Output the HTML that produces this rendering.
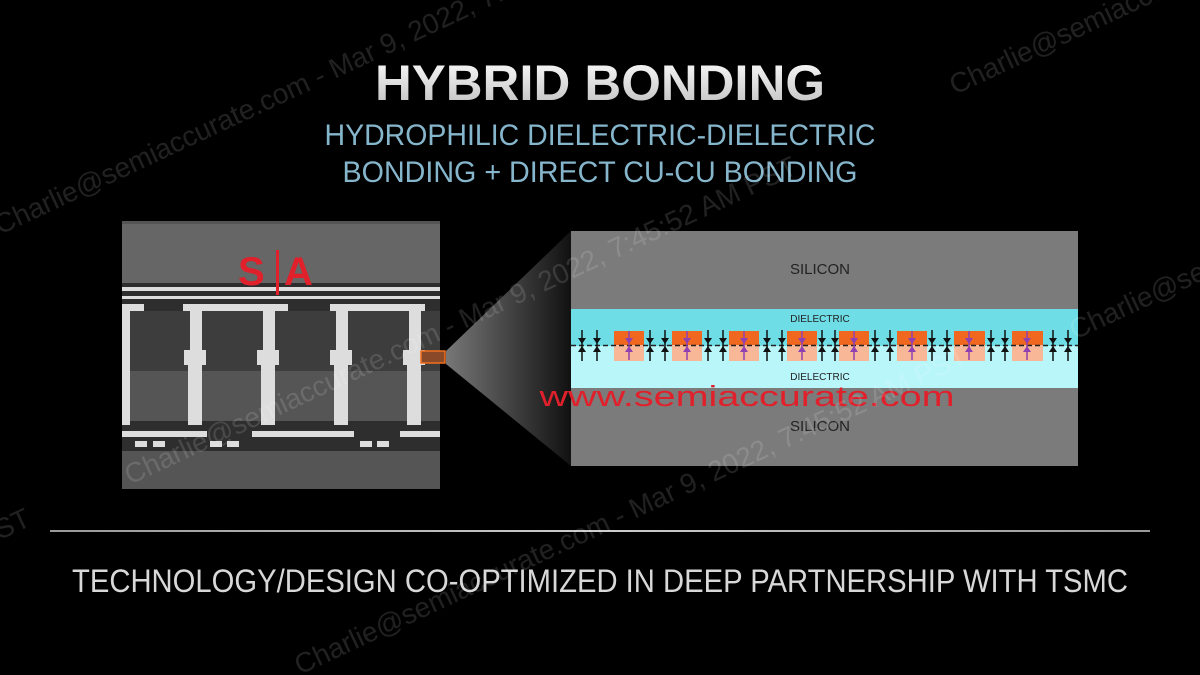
<!DOCTYPE html>
<html><head><meta charset="utf-8"><style>
html,body{margin:0;padding:0;background:#000;}
svg{display:block}
</style></head><body>
<svg width="1200" height="675" viewBox="0 0 1200 675" xmlns="http://www.w3.org/2000/svg">
<defs>
<linearGradient id="tg" x1="0" y1="0" x2="0" y2="1"><stop offset="0" stop-color="#fff"/><stop offset="1" stop-color="#bdbdbd"/></linearGradient>
<linearGradient id="fg" x1="0" y1="0" x2="1" y2="0"><stop offset="0" stop-color="#777"/><stop offset="1" stop-color="#111"/></linearGradient>
<linearGradient id="lg" x1="0" y1="0" x2="1" y2="0"><stop offset="0" stop-color="#999"/><stop offset="0.5" stop-color="#ccc"/><stop offset="1" stop-color="#999"/></linearGradient>
<g id="ar"><line x1="0" y1="330" x2="0" y2="361" stroke="#111" stroke-width="1.5"/><path d="M-4,338 L4,338 L0,344 Z M-4,352 L4,352 L0,346 Z" fill="#111"/></g>
<g id="ap"><line x1="0" y1="331" x2="0" y2="360" stroke="#9040b0" stroke-width="1.5"/><path d="M-4,338 L4,338 L0,344 Z M-4,352 L4,352 L0,346 Z" fill="#9040b0"/></g>
</defs>
<rect width="1200" height="675" fill="#000"/>
<!-- title -->
<text x="600" y="100" text-anchor="middle" font-family="Liberation Sans, sans-serif" font-weight="bold" font-size="50" fill="url(#tg)" textLength="450" lengthAdjust="spacingAndGlyphs">HYBRID BONDING</text>
<text x="600" y="145" text-anchor="middle" font-family="Liberation Sans, sans-serif" font-size="30" fill="#86b6cc" textLength="551" lengthAdjust="spacingAndGlyphs">HYDROPHILIC DIELECTRIC-DIELECTRIC</text>
<text x="600" y="182" text-anchor="middle" font-family="Liberation Sans, sans-serif" font-size="30" fill="#86b6cc" textLength="515" lengthAdjust="spacingAndGlyphs">BONDING + DIRECT CU-CU BONDING</text>
<!-- left image -->
<rect x="122" y="221" width="318" height="268" fill="#666"/>
<rect x="122" y="221" width="318" height="3" fill="#555"/>
<rect x="122" y="283" width="318" height="28" fill="#2e2e2e"/>
<rect x="122" y="311" width="318" height="60" fill="#3d3d3d"/>
<rect x="122" y="371" width="318" height="50" fill="#555"/>
<rect x="122" y="421" width="318" height="30" fill="#2e2e2e"/>
<rect x="122" y="451" width="318" height="38" fill="#555"/>
<g fill="#ddd">
<rect x="122" y="287" width="318" height="4"/>
<rect x="122" y="296" width="318" height="3"/>
<rect x="122" y="304" width="22" height="7"/><rect x="183" y="304" width="105" height="7"/><rect x="330" y="304" width="95" height="7"/>
<rect x="122" y="431" width="85" height="6"/><rect x="252" y="431" width="102" height="6"/><rect x="400" y="431" width="40" height="6"/>
<rect x="135" y="441" width="12" height="6"/><rect x="153" y="441" width="12" height="6"/><rect x="210" y="441" width="12" height="6"/><rect x="227" y="441" width="12" height="6"/><rect x="360" y="441" width="12" height="6"/><rect x="377" y="441" width="12" height="6"/>
<path d="M122,310 h8 v115 h-8z"/>
<path d="M190,310 h12 v40 h4 v15 h-4 v60 h-14 v-60 h-4 v-15 h6z"/>
<path d="M263,310 h12 v40 h4 v15 h-4 v60 h-14 v-60 h-4 v-15 h6z"/>
<path d="M336,310 h12 v40 h4 v15 h-4 v60 h-14 v-60 h-4 v-15 h6z"/>
<path d="M409,310 h12 v40 h4 v15 h-4 v60 h-14 v-60 h-4 v-15 h6z"/>
</g>
<text x="238" y="285" font-family="Liberation Sans, sans-serif" font-weight="bold" font-size="40" fill="#e0202a">S</text>
<rect x="276" y="250" width="3" height="45" fill="#e0202a"/>
<text x="284" y="285" font-family="Liberation Sans, sans-serif" font-weight="bold" font-size="40" fill="#e0202a">A</text>
<rect x="421" y="351" width="24" height="12" fill="#8a4a2a" stroke="#f07020" stroke-width="1.5"/>
<!-- funnel -->
<polygon points="446,351 571,231 571,466 446,364" fill="url(#fg)"/>
<!-- right panel -->
<rect x="571" y="231" width="507" height="235" fill="#7b7b7b"/>
<rect x="571" y="309" width="507" height="37" fill="#6edde6"/>
<rect x="571" y="346" width="507" height="42" fill="#b8f6fa"/>
<g font-family="Liberation Sans, sans-serif" fill="#222" text-anchor="middle">
<text x="820" y="274" font-size="15">SILICON</text>
<text x="820" y="431" font-size="15">SILICON</text>
<text x="820" y="322" font-size="10">DIELECTRIC</text>
<text x="820" y="380" font-size="10">DIELECTRIC</text>
</g>
<g>
<rect x="614" y="331" width="30" height="14" fill="#f06820"/><rect x="614" y="345" width="30" height="16" fill="#f8b898"/>
<rect x="672" y="331" width="30" height="14" fill="#f06820"/><rect x="672" y="345" width="30" height="16" fill="#f8b898"/>
<rect x="729" y="331" width="30" height="14" fill="#f06820"/><rect x="729" y="345" width="30" height="16" fill="#f8b898"/>
<rect x="787" y="331" width="30" height="14" fill="#f06820"/><rect x="787" y="345" width="30" height="16" fill="#f8b898"/>
<rect x="839" y="331" width="30" height="14" fill="#f06820"/><rect x="839" y="345" width="30" height="16" fill="#f8b898"/>
<rect x="897" y="331" width="30" height="14" fill="#f06820"/><rect x="897" y="345" width="30" height="16" fill="#f8b898"/>
<rect x="954" y="331" width="31" height="14" fill="#f06820"/><rect x="954" y="345" width="31" height="16" fill="#f8b898"/>
<rect x="1012" y="331" width="31" height="14" fill="#f06820"/><rect x="1012" y="345" width="31" height="16" fill="#f8b898"/>
</g>
<line x1="571" y1="345.5" x2="1078" y2="345.5" stroke="#222" stroke-width="1.5" stroke-dasharray="5,3"/>
<use href="#ar" x="582"/><use href="#ar" x="597"/><use href="#ar" x="650"/><use href="#ar" x="665"/>
<use href="#ar" x="708"/><use href="#ar" x="723"/><use href="#ar" x="767"/><use href="#ar" x="782"/>
<use href="#ar" x="822"/><use href="#ar" x="835"/><use href="#ar" x="875"/><use href="#ar" x="890"/>
<use href="#ar" x="932"/><use href="#ar" x="947"/><use href="#ar" x="991"/><use href="#ar" x="1005"/>
<use href="#ar" x="1053"/><use href="#ar" x="1068"/>
<use href="#ap" x="629"/><use href="#ap" x="687"/><use href="#ap" x="744"/><use href="#ap" x="802"/><use href="#ap" x="854"/><use href="#ap" x="912"/><use href="#ap" x="969"/><use href="#ap" x="1027"/>
<text x="747" y="406" text-anchor="middle" font-family="Liberation Sans, sans-serif" font-size="29" fill="#e0202a" textLength="415" lengthAdjust="spacingAndGlyphs">www.semiaccurate.com</text>
<!-- bottom -->
<rect x="50" y="530" width="1100" height="2" fill="url(#lg)"/>
<text x="600" y="592" text-anchor="middle" font-family="Liberation Sans, sans-serif" font-size="32" fill="#d8d8d8" textLength="1056" lengthAdjust="spacingAndGlyphs">TECHNOLOGY/DESIGN CO-OPTIMIZED IN DEEP PARTNERSHIP WITH TSMC</text>
<!-- watermarks -->
<g font-family="Liberation Sans, sans-serif" font-size="28" fill="#fff" fill-opacity="0.13">
<text transform="translate(0,235) rotate(-25)">Charlie@semiaccurate.com - Mar 9, 2022, 7:45:52 AM PST</text>
<text transform="translate(130,485) rotate(-25)">Charlie@semiaccurate.com - Mar 9, 2022, 7:45:52 AM PST</text>
<text transform="translate(300,675) rotate(-25)">Charlie@semiaccurate.com - Mar 9, 2022, 7:45:52 AM PST</text>
<text transform="translate(955,95) rotate(-25)">Charlie@semiaccurate.com</text>
<text transform="translate(1075,340) rotate(-25)">Charlie@semiaccurate.com</text>
<text transform="translate(0,540) rotate(-25)">ST</text>
</g>
</svg>
</body></html>
